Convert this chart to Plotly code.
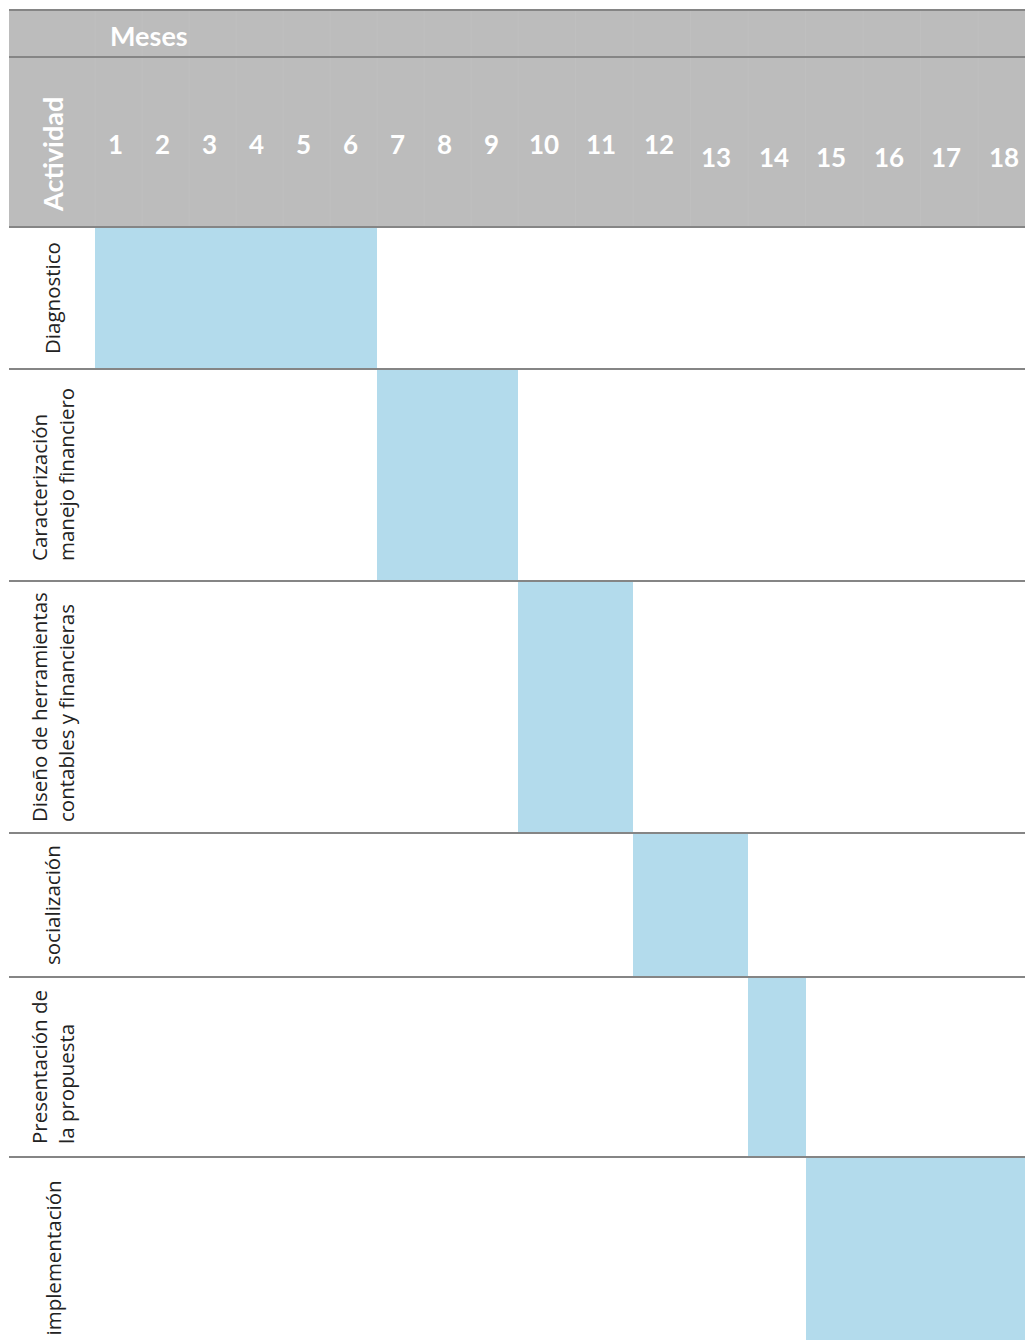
import plotly.graph_objects as go

# data
activities = [
    "Diagnostico",
    "Caracterización<br>manejo financiero",
    "Diseño de herramientas<br>contables y financieras",
    "socialización",
    "Presentación de<br>la propuesta",
    "implementación",
]
start_month = [1, 7, 10, 12, 14, 15]
end_month = [6, 9, 11, 13, 14, 18]
months = [str(m) for m in range(1, 19)]

# layout (pixel-like canvas)
W, H = 1025, 1340
TABLE_LEFT = 9
COL_START = 95
col_widths = [47] * 9 + [57.5] * 9
row_heights = [142, 212, 252, 144, 180, 203]
HEADER_TOP, HEADER_MID, HEADER_BOTTOM = 10, 57, 227

BAR_COLOR = "#b3dbec"
HEADER_COLOR = "#bcbcbc"
LINE_COLOR = "#858585"
FONT = "Lato"
LABEL_FONT = "Open Sans"

col_edges = [COL_START]
for w in col_widths:
    col_edges.append(col_edges[-1] + w)
row_edges = [HEADER_BOTTOM]
for h in row_heights:
    row_edges.append(row_edges[-1] + h)

fig = go.Figure()

bar_base = [col_edges[s - 1] for s in start_month]
bar_len = [col_edges[e] - col_edges[s - 1] for s, e in zip(start_month, end_month)]
row_mid = [(row_edges[i] + row_edges[i + 1]) / 2 for i in range(len(activities))]

fig.add_trace(
    go.Bar(
        y=row_mid,
        x=bar_len,
        base=bar_base,
        width=row_heights,
        orientation="h",
        marker={"color": BAR_COLOR, "line": {"width": 0}},
        hoverinfo="skip",
        showlegend=False,
    )
)

shapes = [
    dict(type="rect", x0=TABLE_LEFT, x1=W + 40, y0=HEADER_TOP, y1=HEADER_BOTTOM,
         fillcolor=HEADER_COLOR, line={"width": 0}, layer="below"),
]
# faint column separators in header
for x in col_edges[:-1]:
    shapes.append(dict(type="line", x0=x, x1=x, y0=HEADER_TOP, y1=HEADER_BOTTOM,
                       line={"color": "#bfbfbf", "width": 1}, layer="below"))
for y in [HEADER_TOP, HEADER_MID] + row_edges[:-1]:
    shapes.append(dict(type="line", x0=TABLE_LEFT, x1=W + 40, y0=y, y1=y,
                       line={"color": LINE_COLOR, "width": 2}))

annotations = [
    dict(x=108, y=35, text="<b>Meses</b>", showarrow=False, xanchor="left",
         yanchor="middle", font={"family": FONT, "size": 27, "color": "white"}),
    dict(x=52, y=155, text="<b>Actividad</b>", showarrow=False, textangle=-90,
         xanchor="center", yanchor="middle",
         font={"family": FONT, "size": 27, "color": "white"}),
]
for i, m in enumerate(months):
    cx = (col_edges[i] + col_edges[i + 1]) / 2 - 3
    cy = 144 if i < 12 else 157
    annotations.append(
        dict(x=cx, y=cy, text="<b>" + m + "</b>", showarrow=False,
             xanchor="center", yanchor="middle",
             font={"family": FONT, "size": 26, "color": "white"})
    )
for name, y in zip(activities, row_mid):
    annotations.append(
        dict(x=52, y=y, text=name, showarrow=False, textangle=-90, align="left",
             xanchor="center", yanchor="middle",
             font={"family": LABEL_FONT, "size": 20.5, "color": "#222222"})
    )

fig.update_layout(
    width=W,
    height=H,
    margin={"l": 0, "r": 0, "t": 0, "b": 0},
    paper_bgcolor="white",
    plot_bgcolor="white",
    shapes=shapes,
    annotations=annotations,
    bargap=0,
    xaxis={"range": [0, W], "visible": False, "fixedrange": True},
    yaxis={"range": [H, 0], "visible": False, "fixedrange": True},
)

# drop the default page margin so the figure fills the window
fig.write_html(
    "out.html",
    config={"displayModeBar": False},
    post_script="document.body.style.margin='0';document.body.style.overflow='hidden';",
)
